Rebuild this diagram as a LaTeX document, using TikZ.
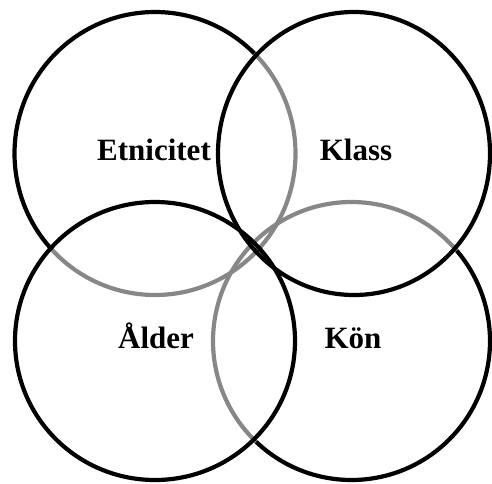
\documentclass[tikz,border=0pt]{standalone}
\usepackage{fontspec}
\setmainfont{Liberation Serif}
\definecolor{ringgray}{RGB}{135,135,135}
\begin{document}
\begin{tikzpicture}[x=1pt,y=1pt,
  ring/.style={line width=4.2pt, line cap=butt},
  under/.style={ring, draw=ringgray},
  over/.style={ring, draw=black},
  lbl/.style={font=\fontsize{31}{36}\selectfont\bfseries, inner sep=0pt, anchor=base}]
\useasboundingbox (0,0) rectangle (492,483);
\coordinate (cE) at (155,329.5);
\coordinate (cK) at (354,329.5);
\coordinate (cA) at (155,142);
\coordinate (cO) at (351.5,142);
% Etnicitet ring: grey where it passes under
\draw[under] ([shift={(-138:140.5 and 141.5)}]cE) arc[start angle=-138, end angle=45, x radius=140.5, y radius=141.5];
\draw[over] ([shift={(45:140.5 and 141.5)}]cE) arc[start angle=45, end angle=222, x radius=140.5, y radius=141.5];
% Kön ring
\draw[under] ([shift={(40.5:138.5 and 139)}]cO) arc[start angle=40.5, end angle=226.5, x radius=138.5, y radius=139];
\draw[over] ([shift={(226.5:138.5 and 139)}]cO) arc[start angle=226.5, end angle=400.5, x radius=138.5, y radius=139];
% Klass and Ålder rings on top
\draw[over] (cK) ellipse[x radius=136, y radius=141.5];
\draw[over] (cA) ellipse[x radius=140, y radius=139];
% labels
\node[lbl] (tE) at (154,322.3) {Etnicitet};
\node[lbl] (tK) at (356,322.3) {Klass};
\node[lbl] (tA) at (156,134.7) {Ålder};
\node[lbl] (tO) at (353,134.7) {Kön};
\end{tikzpicture}
\end{document}
